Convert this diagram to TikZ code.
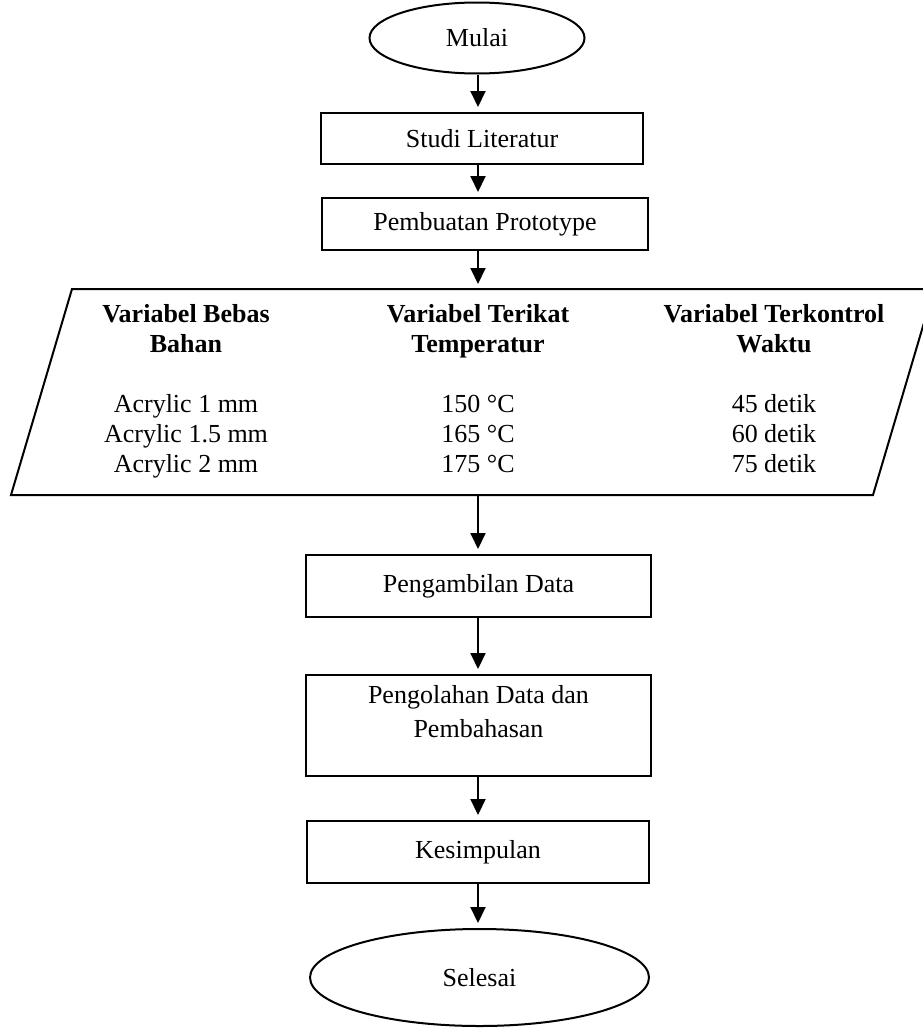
\documentclass[tikz,border=0pt]{standalone}
\usepackage{fontspec}
\setmainfont{Liberation Serif}
\usetikzlibrary{shapes.geometric,arrows.meta,positioning}

\begin{document}
\begin{tikzpicture}[x=1pt,y=-1pt,line width=2pt,
	font=\fontsize{26}{30}\selectfont,
	term/.style={draw,ellipse,inner sep=0pt},
	box/.style={draw,rectangle,inner sep=0pt},
	col/.style={anchor=north,align=center,inner sep=0pt},
	arr/.style={-{Triangle[length=16pt,width=15pt]},shorten >=5pt}]

\useasboundingbox (0,0) rectangle (923,1028);
\coordinate (axis) at (478,0);

%mulai
\node[term,minimum width=215pt,minimum height=71pt] (mulai) at (477,38) {Mulai};
\node[box,minimum width=322pt,minimum height=51pt] (studi) at (482,138.5) {Studi Literatur};
\node[box,minimum width=326pt,minimum height=52pt] (proto) at (485,224) {Pembuatan Prototype};

%variabel
\node[inner sep=0pt,minimum width=921pt,minimum height=204pt] (vars) at (472.5,392) {};
\draw ([xshift=61pt]vars.north west) -- (vars.north east)
	-- ([xshift=-61pt]vars.south east) -- (vars.south west) -- cycle;

\node[col] (bebas) at (186,303) {\textbf{Variabel Bebas}\\\textbf{Bahan}\\[30pt]Acrylic 1 mm\\Acrylic 1.5 mm\\Acrylic 2 mm};
\node[col] (terikat) at (478,303) {\textbf{Variabel Terikat}\\\textbf{Temperatur}\\[30pt]150~°C\\165~°C\\175~°C};
\node[col] (kontrol) at (774,303) {\textbf{Variabel Terkontrol}\\\textbf{Waktu}\\[30pt]45 detik\\60 detik\\75 detik};

%proses
\node[box,minimum width=345pt,minimum height=62pt] (ambil) at (478.5,586) {Pengambilan Data};
\node[box,minimum width=345pt,minimum height=101pt] (olah) at (478.5,725.5) {};
\node[col,font=\fontsize{26}{34}\selectfont,below=10pt of olah.north] (olahtxt) {Pengolahan Data dan\\Pembahasan};
\node[box,minimum width=342pt,minimum height=62pt] (simpul) at (478,852) {Kesimpulan};

%selesai
\node[term,minimum width=339pt,minimum height=97pt] (selesai) at (479.5,977.5) {Selesai};

\draw[arr] (axis |- mulai.south) -- (axis |- studi.north);
\draw[arr] (axis |- studi.south) -- (axis |- proto.north);
\draw[arr] (axis |- proto.south) -- (axis |- vars.north);
\draw[arr] (axis |- vars.south) -- (axis |- ambil.north);
\draw[arr] (axis |- ambil.south) -- (axis |- olah.north);
\draw[arr] (axis |- olah.south) -- (axis |- simpul.north);
\draw[arr] (axis |- simpul.south) -- (axis |- selesai.north);

\end{tikzpicture}
\end{document}
